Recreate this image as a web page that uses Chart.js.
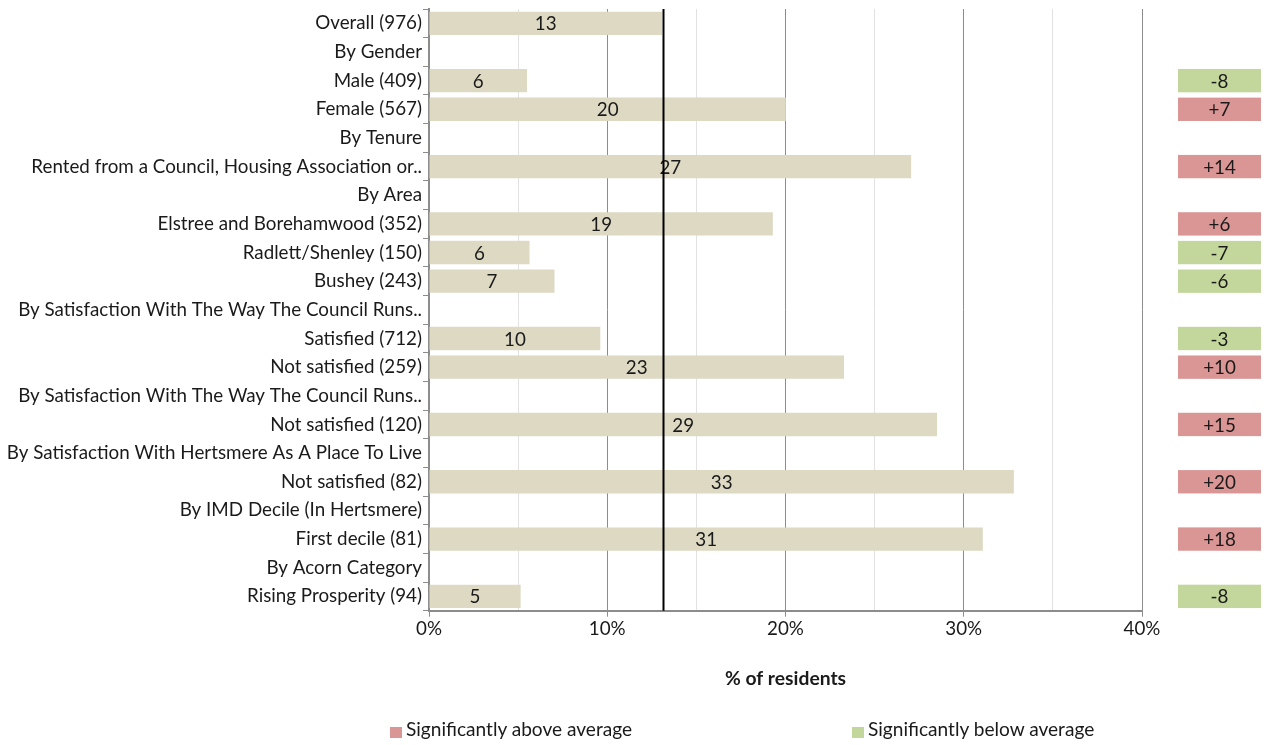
<!DOCTYPE html>
<html>
<head>
<meta charset="utf-8">
<script src="https://cdn.jsdelivr.net/npm/chart.js@4/dist/chart.umd.min.js"></script>
<style>
    html, body { margin: 0; padding: 0; background: #fff; }
    #wrap { position: relative; width: 1269px; height: 745px; }
    .sq { position: absolute; width: 12px; height: 11px; }
    .lt { position: absolute; font-family: Lato, sans-serif; font-size: 19.1px; color: #1a1a1a; white-space: nowrap; line-height: 22px; }
</style>
</head>
<body>
<div id="wrap">
    <canvas id="chart" width="1269" height="745"></canvas>
    <div class="sq" style="left:390px;top:727px;background:#d99694"></div>
    <div class="lt" style="left:406px;top:718px">Significantly above average</div>
    <div class="sq" style="left:852px;top:727px;background:#c3d69b"></div>
    <div class="lt" style="left:868px;top:718px">Significantly below average</div>
</div>
<script>
(function () {
    'use strict';

    var categories = [
        'Overall (976)',
        'By Gender',
        'Male (409)',
        'Female (567)',
        'By Tenure',
        'Rented from a Council, Housing Association or..',
        'By Area',
        'Elstree and Borehamwood (352)',
        'Radlett/Shenley (150)',
        'Bushey (243)',
        'By Satisfaction With The Way The Council Runs..',
        'Satisfied (712)',
        'Not satisfied (259)',
        'By Satisfaction With The Way The Council Runs..',
        'Not satisfied (120)',
        'By Satisfaction With Hertsmere As A Place To Live',
        'Not satisfied (82)',
        'By IMD Decile (In Hertsmere)',
        'First decile (81)',
        'By Acorn Category',
        'Rising Prosperity (94)'
    ];

    // % of residents
    var values = [13.07, null, 5.5, 20.02, null, 27.05, null, 19.29, 5.64, 7.04,
                  null, 9.61, 23.28, null, 28.5, null, 32.81, null, 31.07, null, 5.14];

    // difference from overall, shown in the boxes on the right
    var diffs = [null, null, -8, 7, null, 14, null, 6, -7, -6,
                 null, -3, 10, null, 15, null, 20, null, 18, null, -8];

    var xTicks = [0, 10, 20, 30, 40];
    var AVERAGE = 13.1;

    var FONT = 'Lato, sans-serif';
    var FSIZE = 18.8;
    var BAR_PCT = 0.815;
    var ABOVE = '#d99694';
    var BELOW = '#c3d69b';
    var AXIS = '#8c8c8c';

    var overlay = {
        id: 'overlay',
        afterDatasetsDraw: function (chart) {
            var ctx = chart.ctx;
            var meta = chart.getDatasetMeta(0);
            var xs = chart.scales.x;
            var ys = chart.scales.y;
            var area = chart.chartArea;
            var h = (ys.getPixelForValue(1) - ys.getPixelForValue(0)) * BAR_PCT;

            ctx.save();
            ctx.font = FSIZE + 'px ' + FONT;
            ctx.fillStyle = '#1a1a1a';
            ctx.textAlign = 'center';
            ctx.textBaseline = 'middle';
            for (var i = 0; i < values.length; i++) {
                if (values[i] === null) continue;
                var bar = meta.data[i];
                ctx.fillText(String(Math.round(values[i])), (bar.x + bar.base) / 2, bar.y + 1);
            }

            // average line
            var ax = Math.round(xs.getPixelForValue(AVERAGE)) + 0.5;
            ctx.strokeStyle = '#000';
            ctx.lineWidth = 2;
            ctx.beginPath();
            ctx.moveTo(ax, area.top);
            ctx.lineTo(ax, area.bottom);
            ctx.stroke();

            // significance boxes
            var bx = area.right + 36;
            var bw = 83;
            for (var j = 0; j < diffs.length; j++) {
                var d = diffs[j];
                if (d === null) continue;
                var y = ys.getPixelForValue(j);
                ctx.fillStyle = d > 0 ? ABOVE : BELOW;
                ctx.fillRect(bx, y - h / 2, bw, h);
                ctx.fillStyle = '#1a1a1a';
                ctx.fillText((d > 0 ? '+' : '') + d, bx + bw / 2, y + 1);
            }
            ctx.restore();
        }
    };

    new Chart(document.getElementById('chart').getContext('2d'), {
        type: 'bar',
        data: {
            labels: categories,
            datasets: [{
                data: values,
                backgroundColor: '#ddd9c3',
                borderWidth: 0,
                barPercentage: BAR_PCT,
                categoryPercentage: 1
            }]
        },
        options: {
            indexAxis: 'y',
            responsive: false,
            animation: false,
            layout: { padding: { top: 9, right: 127, bottom: 55, left: 0 } },
            plugins: {
                legend: { display: false },
                tooltip: { enabled: false }
            },
            scales: {
                x: {
                    min: xTicks[0],
                    max: xTicks[xTicks.length - 1],
                    ticks: {
                        stepSize: 5,
                        autoSkip: false,
                        maxRotation: 0,
                        padding: 1,
                        color: '#1a1a1a',
                        font: { family: FONT, size: FSIZE },
                        callback: function (v) {
                            return xTicks.indexOf(v) >= 0 ? v + '%' : '';
                        }
                    },
                    grid: {
                        color: function (c) {
                            return c.tick && xTicks.indexOf(c.tick.value) >= 0 ? AXIS : '#e2e2e2';
                        },
                        tickColor: function (c) {
                            return c.tick && xTicks.indexOf(c.tick.value) >= 0 ? AXIS : 'rgba(0,0,0,0)';
                        },
                        tickLength: 6,
                        lineWidth: 1
                    },
                    border: { color: AXIS, width: 2 },
                    title: {
                        display: true,
                        text: '% of residents',
                        color: '#1a1a1a',
                        font: { family: FONT, size: 19.3, weight: 'bold' },
                        padding: { top: 0, bottom: 0 }
                    },
                    afterFit: function (scale) { scale.height = 79.3; }
                },
                y: {
                    ticks: {
                        autoSkip: false,
                        padding: 1,
                        color: '#1a1a1a',
                        font: { family: FONT, size: FSIZE }
                    },
                    grid: {
                        offset: true,
                        drawOnChartArea: false,
                        tickLength: 6,
                        color: AXIS
                    },
                    border: { color: AXIS, width: 2 },
                    afterFit: function (scale) {
                        scale.width = 429;
                        scale.paddingTop = 0;
                        scale.paddingBottom = 0;
                    }
                }
            }
        },
        plugins: [overlay]
    });
})();
</script>
</body>
</html>
